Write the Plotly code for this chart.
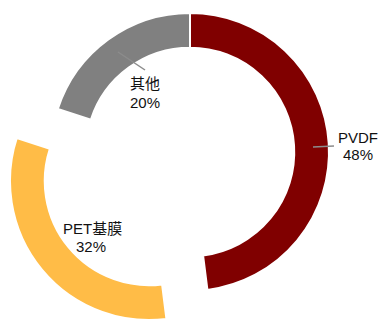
import plotly.graph_objects as go

# Material share of the separator / film market
labels = ["PVDF", "PET基膜", "其他"]
values = [48, 32, 20]
colors = ["#800000", "#FFBC47", "#808080"]

# Which slice is drawn offset (exploded) from the ring
exploded = "PET基膜"

W, H = 381, 322
FONT = "Liberation Sans, Arial, Noto Sans CJK SC, sans-serif"


def px_x(x):
    return x / W


def px_y(y):
    return 1 - y / H


def ring(show, domain_x, domain_y):
    """A donut trace that shows only the slices named in `show`."""
    fill = [c if l in show else "rgba(0,0,0,0)" for l, c in zip(labels, colors)]
    widths = [2 if l in show else 0 for l in labels]
    return go.Pie(
        labels=labels,
        values=values,
        sort=False,
        direction="clockwise",
        rotation=0,
        hole=0.75,
        textinfo="none",
        hoverinfo="label+percent",
        showlegend=False,
        marker=dict(colors=fill, line=dict(color="white", width=widths)),
        domain=dict(x=domain_x, y=domain_y),
    )


fig = go.Figure()

# Main ring (centre ~ (190,152), radius ~139 px)
fig.add_trace(ring([l for l in labels if l != exploded],
                   [px_x(51), px_x(329)], [px_y(291), px_y(13)]))
# Exploded slice, drawn on its own ring shifted toward its mid-angle
fig.add_trace(ring([exploded],
                   [px_x(10), px_x(288)], [px_y(320), px_y(42)]))

pct = {l: f"{v}%" for l, v in zip(labels, values)}

# Label positions (name line, percent line) in pixels
label_pos = {
    "PVDF": ((358, 137), (358, 154)),
    "其他": ((145, 83), (145, 102)),
    "PET基膜": ((92, 228), (91, 246)),
}

annotations = []
for name, ((nx, ny), (vx, vy)) in label_pos.items():
    for txt, x, y in ((name, nx, ny), (pct[name], vx, vy)):
        annotations.append(dict(
            text=txt, x=px_x(x), y=px_y(y), xref="paper", yref="paper",
            xanchor="center", yanchor="middle", showarrow=False,
            font=dict(family=FONT, size=15, color="#111111"),
        ))

# Leader lines from slices to their labels
leaders = [((313, 147), (334, 146)), ((118, 52), (145, 70))]
shapes = [
    dict(type="line", xref="paper", yref="paper",
         x0=px_x(a[0]), y0=px_y(a[1]), x1=px_x(b[0]), y1=px_y(b[1]),
         line=dict(color="#8c8c8c", width=1.5))
    for a, b in leaders
]

fig.update_layout(
    width=W,
    height=H,
    margin=dict(l=0, r=0, t=0, b=0),
    paper_bgcolor="white",
    plot_bgcolor="white",
    annotations=annotations,
    shapes=shapes,
)

fig.write_html("out.html")
